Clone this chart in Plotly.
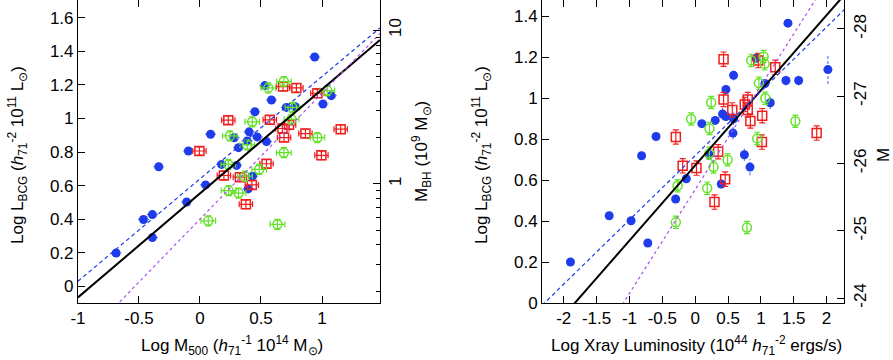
import plotly.graph_objects as go

# ---- left panel: L_BCG vs M500 ----
blue_x_L = [0.94, 0.531, 0.586, 1.076, 1.008, 0.708, 0.78, 0.45, 0.403, 0.469, 0.387, 0.545, 0.316,
            0.28, 0.087, -0.095, -0.338, 0.177, 0.3, 0.43, 0.046, 0.395, -0.109, -0.39, -0.463, -0.39, -0.687]
blue_y_L = [1.366, 1.196, 1.11, 1.136, 1.086, 1.066, 1.07, 1.04, 0.92, 0.89, 0.866, 0.862, 0.826,
            0.885, 0.906, 0.806, 0.712, 0.726, 0.72, 0.656, 0.604, 0.58, 0.502, 0.427, 0.398, 0.29, 0.198]
red_x_L = [0.681, 0.79, 0.962, 0.232, 0.572, 0.676, 0.73, 0.689, 0.864, 1.153, 0.995, -0.005,
           0.545, 0.196, 0.327, 0.425, 0.376]
red_y_L = [1.19, 1.182, 1.15, 0.99, 0.992, 0.94, 0.962, 0.886, 0.91, 0.936, 0.78, 0.806,
           0.73, 0.66, 0.65, 0.604, 0.488]
green_x_L = [0.687, 0.559, 1.044, 0.757, 0.75, 0.428, 0.245, 0.387, 0.962, 0.687, 0.232, 0.485,
             0.369, 0.234, 0.316, 0.068, 0.635]
green_y_L = [1.22, 1.182, 1.166, 1.066, 0.995, 0.98, 0.896, 0.842, 0.886, 0.796, 0.726, 0.696,
             0.656, 0.57, 0.555, 0.39, 0.369]

# ---- right panel: L_BCG vs Lx ----
blue_x_R = [1.412, 2.02, 1.382, 1.575, 1.143, 0.585, 0.468, 0.925, 1.062, 0.417, 0.468, 0.305, 0.101,
            0.585, 0.576, -0.595, -0.815, 0.749, 0.834, 0.213, -0.135, -0.297, 0.397, -1.308, -0.975,
            -0.721, -1.898]
blue_y_R = [1.367, 1.14, 1.087, 1.087, 0.978, 1.112, 1.043, 1.195, 1.072, 0.923, 0.911, 0.892, 0.876,
            0.9, 0.83, 0.813, 0.719, 0.724, 0.664, 0.725, 0.607, 0.508, 0.581, 0.426, 0.402,
            0.293, 0.2]
blue_ey_R = [0.02, 0.07, 0.025, 0.025, 0.03, 0.025, 0.025, 0.02, 0.02, 0.03, 0.02, 0.02, 0.01,
             0.03, 0.03, 0.01, 0.01, 0.03, 0.04, 0.02, 0.02, 0.01, 0.02, 0.01, 0.01, 0.01, 0.01]
red_x_R = [0.432, 0.96, 1.219, 0.432, 0.80, 0.755, 0.565, 0.80, 0.84, 1.02, 1.849, 1.016, -0.294,
           0.35, -0.19, 0.02, 0.457, 0.294]
red_y_R = [1.191, 1.184, 1.151, 0.994, 0.994, 0.97, 0.943, 0.943, 0.889, 0.915, 0.83, 0.786, 0.811,
           0.739, 0.67, 0.659, 0.605, 0.493]
green_x_R = [0.854, 1.041, 1.057, 0.97, 1.067, 0.244, -0.061, 1.524, 0.218, 0.945, 0.216, 0.493,
             0.28, -0.267, 0.183, -0.294, 0.788]
green_y_R = [1.185, 1.204, 1.168, 1.074, 1.0, 0.979, 0.899, 0.888, 0.852, 0.804, 0.731, 0.7,
             0.664, 0.573, 0.561, 0.394, 0.369]

# fitted relations: (intercept, slope)
fit_black_L = (0.553, 0.62)
fit_blue_L = (0.64, 0.61)
fit_purple_L = (0.40, 0.75)
fit_black_R = (0.672, 0.367)
fit_blue_R = (0.72, 0.314)
fit_purple_R = (0.554, 0.507)

xr_L = [-1, 1.475]
yr_L = [-0.1, 1.706]
xr_R = [-2.33, 2.27]
yr_R = [0, 1.48]

BLUE = "rgb(30,60,235)"
BLUE_ERR = "rgba(40,80,240,0.75)"
RED = "rgb(240,30,30)"
GREEN = "rgb(100,225,40)"
PURPLE = "rgb(170,80,240)"
FONT = "Liberation Sans"
W, H, PLOT_H = 893, 360, 303


def dashed_errors(xs, ys, ex, ey):
    sx, sy = [], []
    for i, (x, y) in enumerate(zip(xs, ys)):
        exi = ex[i] if isinstance(ex, list) else ex
        eyi = ey[i] if isinstance(ey, list) else ey
        if exi:
            sx += [x - exi, x + exi, None]
            sy += [y, y, None]
        if eyi:
            sx += [x, x, None]
            sy += [y - eyi, y + eyi, None]
    return sx, sy


def fit_line(fit, xr):
    a, b = fit
    return xr, [a + b * xr[0], a + b * xr[1]]


fig = go.Figure()


def add_panel(xa, ya, bx, by, bex, bey, rx, ry, rex, rey, gx, gy, gex, gey, fits, xr):
    ex, ey = dashed_errors(bx, by, bex, bey)
    fig.add_trace(go.Scatter(x=ex, y=ey, mode="lines", xaxis=xa, yaxis=ya,
                             line=dict(color=BLUE_ERR, width=1.2, dash="3px,2px"),
                             showlegend=False, hoverinfo="skip"))
    fig.add_trace(go.Scatter(x=bx, y=by, mode="markers", xaxis=xa, yaxis=ya,
                             marker=dict(color=BLUE, size=9, symbol="circle"), showlegend=False))
    err_r_x = dict(type="constant", value=rex, color=RED, thickness=1.2, width=3) if rex else None
    err_g_x = dict(type="constant", value=gex, color=GREEN, thickness=1.2, width=3) if gex else None
    fig.add_trace(go.Scatter(x=rx, y=ry, mode="markers", xaxis=xa, yaxis=ya,
                             error_x=err_r_x,
                             error_y=dict(type="constant", value=rey, color=RED, thickness=1.2, width=3),
                             marker=dict(color=RED, size=9, symbol="square-open", line=dict(width=1.5)),
                             showlegend=False))
    fig.add_trace(go.Scatter(x=gx, y=gy, mode="markers", xaxis=xa, yaxis=ya,
                             error_x=err_g_x,
                             error_y=dict(type="constant", value=gey, color=GREEN, thickness=1.2, width=3),
                             marker=dict(color=GREEN, size=9, symbol="circle-open", line=dict(width=1.5)),
                             showlegend=False))
    styles = [dict(color="black", width=2), dict(color=BLUE, width=1.2, dash="4px,3px"),
              dict(color=PURPLE, width=1.2, dash="dot")]
    for fit, st in zip(fits, styles):
        lx, ly = fit_line(fit, xr)
        fig.add_trace(go.Scatter(x=lx, y=ly, mode="lines", xaxis=xa, yaxis=ya,
                                 line=st, showlegend=False, hoverinfo="skip"))


add_panel("x", "y", blue_x_L, blue_y_L, 0.045, 0.02, red_x_L, red_y_L, 0.055, 0.025,
          green_x_L, green_y_L, 0.06, 0.03, [fit_black_L, fit_blue_L, fit_purple_L], xr_L)
add_panel("x2", "y3", blue_x_R, blue_y_R, 0, blue_ey_R, red_x_R, red_y_R, 0, 0.035,
          green_x_R, green_y_R, 0, 0.03, [fit_black_R, fit_blue_R, fit_purple_R], xr_R)

# empty traces so the secondary (right-hand) axes get drawn
fig.add_trace(go.Scatter(x=[None], y=[None], xaxis="x", yaxis="y2", mode="markers",
                         showlegend=False, hoverinfo="skip"))
fig.add_trace(go.Scatter(x=[None], y=[None], xaxis="x2", yaxis="y4", mode="markers",
                         showlegend=False, hoverinfo="skip"))

ax = dict(showline=True, linecolor="black", linewidth=1, ticks="inside", ticklen=7,
          tickcolor="black", showgrid=False, zeroline=False, automargin=False,
          tickfont=dict(family=FONT, size=17, color="black"))

# axis titles placed as annotations (pixel positions converted to paper coords)
titles = [
    ("Log M<sub>500</sub> (<i>h</i><sub>71</sub><sup>-1</sup> 10<sup>14</sup> M<sub>⊙</sub>)", 232, 345, 0),
    ("Log Xray Luminosity (10<sup>44</sup> <i>h</i><sub>71</sub><sup>-2</sup> ergs/s)", 696, 345, 0),
    ("Log L<sub>BCG</sub> (<i>h</i><sub>71</sub><sup>-2</sup> 10<sup>11</sup> L<sub>⊙</sub>)", 17, 155, -90),
    ("Log L<sub>BCG</sub> (<i>h</i><sub>71</sub><sup>-2</sup> 10<sup>11</sup> L<sub>⊙</sub>)", 481, 155, -90),
    ("M<sub>BH</sub> (10<sup>9</sup> M<sub>⊙</sub>)", 421, 152, -90),
    ("M", 883, 155, -90),
]
annotations = [dict(text=t, x=px / W, y=(PLOT_H - py) / PLOT_H, xref="paper", yref="paper",
                    xanchor="center", yanchor="middle", textangle=ang, showarrow=False,
                    font=dict(family=FONT, size=17, color="black"))
               for t, px, py, ang in titles]

fig.update_layout(
    width=W, height=H,
    margin=dict(l=0, r=0, t=0, b=H - PLOT_H),
    paper_bgcolor="white", plot_bgcolor="white",
    font=dict(family=FONT, size=17, color="black"),
    annotations=annotations,
    xaxis=dict(ax, domain=[0.0873, 0.4255], range=xr_L, anchor="y", mirror="ticks",
               tickvals=[-1, -0.5, 0, 0.5, 1], ticktext=["-1", "-0.5", "0", "0.5", "1"]),
    yaxis=dict(ax, domain=[0, 1], range=yr_L, anchor="x", mirror=True,
               tickvals=[0, 0.2, 0.4, 0.6, 0.8, 1, 1.2, 1.4, 1.6],
               ticktext=["0", "0.2", "0.4", "0.6", "0.8", "1", "1.2", "1.4", "1.6"]),
    yaxis2=dict(ax, type="log", overlaying="y", side="right", anchor="x",
                range=[-0.776, 1.196], tickvals=[1, 10], ticktext=["1", "10"], tickangle=-90,
                minor=dict(ticks="inside", ticklen=4, tickcolor="black",
                           tickvals=[0.2, 0.3, 0.4, 0.5, 0.6, 0.7, 0.8, 0.9, 2, 3, 4, 5, 6, 7, 8, 9, 20])),
    xaxis2=dict(ax, domain=[0.607, 0.9455], range=xr_R, anchor="y3", mirror="ticks",
                tickvals=[-2, -1.5, -1, -0.5, 0, 0.5, 1, 1.5, 2],
                ticktext=["-2", "-1.5", "-1", "-0.5", "0", "0.5", "1", "1.5", "2"]),
    yaxis3=dict(ax, domain=[0, 1], range=yr_R, anchor="x2", mirror=True,
                tickvals=[0, 0.2, 0.4, 0.6, 0.8, 1, 1.2, 1.4],
                ticktext=["0", "0.2", "0.4", "0.6", "0.8", "1", "1.2", "1.4"]),
    yaxis4=dict(ax, overlaying="y3", side="right", anchor="x2",
                range=[-23.926, -28.43], tickvals=[-28, -27, -26, -25, -24],
                ticktext=["-28", "-27", "-26", "-25", "-24"], tickangle=-90),
)

# the page body has a default 8px margin; remove it so the figure sits at the window corner
fig.write_html("out.html", config={"displayModeBar": False},
               post_script="document.body.style.margin='0';")
